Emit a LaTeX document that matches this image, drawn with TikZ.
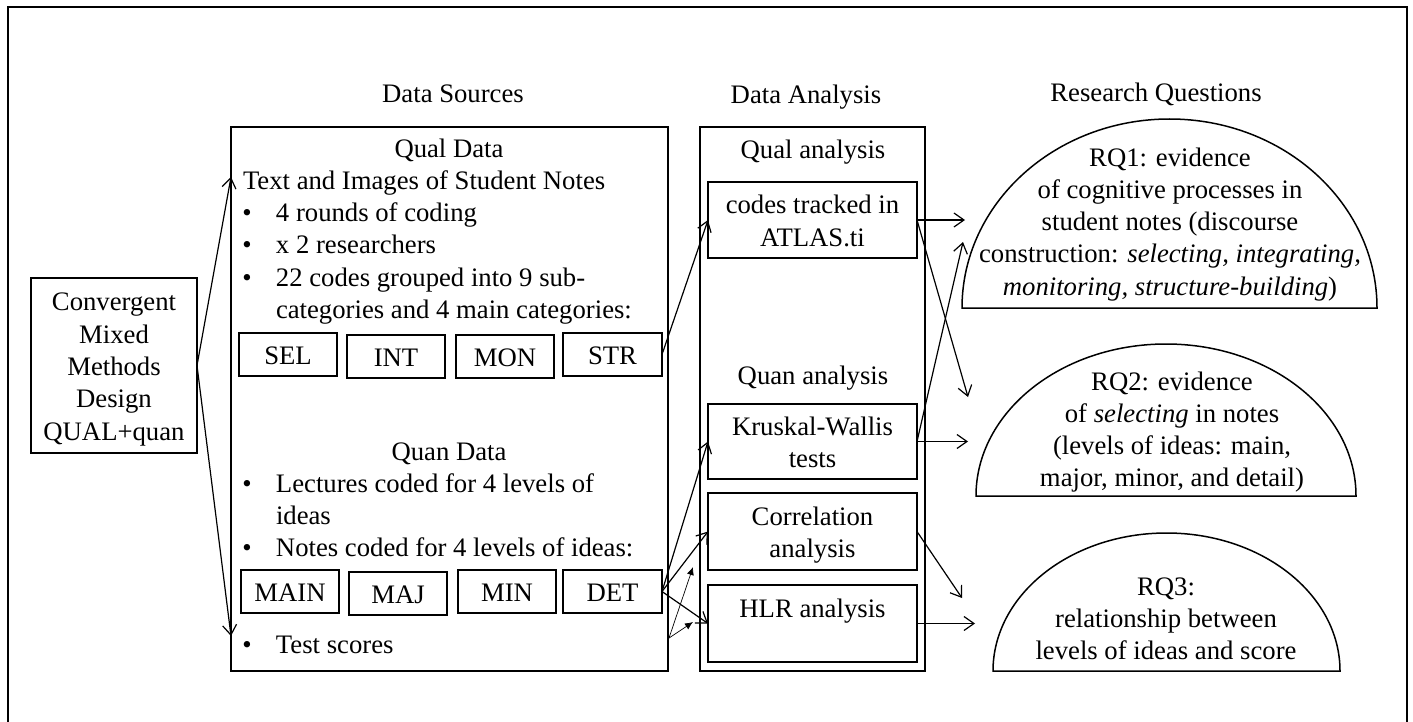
\documentclass[tikz,border=0pt]{standalone}
\usepackage{fontspec}
\setmainfont{Liberation Serif}
\usetikzlibrary{arrows.meta}
\newcommand\ml[1]{\begin{tabular}[t]{@{}c@{}}#1\end{tabular}}
\newcommand\bl[1]{\begin{tabular}[t]{@{}l@{}l@{}}#1\end{tabular}}
\newcommand\bu{\makebox[16.85pt][l]{•}}
\begin{document}
\begin{tikzpicture}[x=0.5pt,y=-0.5pt,
  every node/.style={font=\fontsize{13.35pt}{16.15pt}\selectfont, inner sep=0pt, outer sep=0pt},
  box/.style={draw, line width=0.75pt, inner sep=0pt},
  one/.style={text height=12pt, text depth=2.1pt},
  two/.style={text height=6pt, text depth=12.25pt},
  five/.style={text height=6pt, text depth=60.7pt},
  sbox/.style={box, minimum width=49pt, minimum height=21.5pt, one},
  abox/.style={box, minimum width=104.5pt, minimum height=38pt, two},
  rqshape/.style={draw, line width=0.75pt},
  arr/.style={-{Straight Barb[length=5pt,width=7pt]}, line width=0.6pt},
  tarr/.style={-{Latex[length=4pt,width=3.5pt]}, line width=0.35pt},
  ]
\useasboundingbox (0,0) rectangle (1413,722);
\begin{scope}
  \clip (0,0) rectangle (1413,722);
  \draw[line width=0.6pt] (8,7) rectangle (1407,760);
\end{scope}

% headings
\node[anchor=base] (h1) at (453,103) {Data Sources};
\node[anchor=base] (h2) at (806,104) {Data Analysis};
\node[anchor=base] (h3) at (1156,102) {Research Questions};

% design box
\node[box, minimum width=83pt, minimum height=87.5pt, five] (conv) at (114,365.5)
  {\ml{Convergent\\Mixed\\Methods\\Design\\QUAL+quan}};

% data sources
\node[box, minimum width=218.5pt, minimum height=272pt] (ds) at (449.5,399) {};
\node[anchor=base] (qd) at (449,157) {Qual Data};
\node[anchor=base west] (tin) at (243,189) {Text and Images of Student Notes};
\node[anchor=base west] (qlist) at (242.3,221.6)
  {\bl{\bu&4 rounds of coding\\ \bu&x 2 researchers\\ \bu&22 codes grouped into 9 sub-\\ &categories and 4 main categories:}};
\node[sbox] (sel) at (288,354.5) {SEL};
\node[sbox] (int) at (396,356.5) {INT};
\node[sbox] (mon) at (505,356.5) {MON};
\node[sbox, minimum width=49.5pt] (str) at (612.5,354.5) {STR};

\node[anchor=base] (qnd) at (449,460) {Quan Data};
\node[anchor=base west] (nlist) at (242.3,492)
  {\bl{\bu&Lectures coded for 4 levels of\\ &ideas\\ \bu&Notes coded for 4 levels of ideas:}};
\node[sbox] (main) at (290,591.5) {MAIN};
\node[sbox] (maj) at (398,593.5) {MAJ};
\node[sbox] (min) at (507,591.5) {MIN};
\node[sbox, minimum width=49.5pt] (det) at (612.5,591.5) {DET};
\node[anchor=base west] (tsc) at (242.3,653) {\bl{\bu&Test scores}};

% data analysis
\node[box, minimum width=112.5pt, minimum height=272pt] (da) at (812.5,399) {};
\node[anchor=base] (qla) at (813,158) {Qual analysis};
\node[abox] (codes) at (812.5,220) {\ml{codes tracked in\\ATLAS.ti}};
\node[anchor=base] (qna) at (813,384) {Quan analysis};
\node[abox, minimum height=37.5pt] (kw) at (812.5,441.5) {\ml{Kruskal-Wallis\\tests}};
\node[abox, minimum height=38.5pt] (corr) at (812.5,531.5) {\ml{Correlation\\analysis}};
\node[abox, minimum height=38.5pt] (hlr) at (812.5,623.5) {HLR analysis};

% research questions
\draw[rqshape] (962,308) arc[start angle=180, end angle=0, x radius=103.75pt, y radius=94.5pt] -- cycle;
\draw[rqshape] (976,496) arc[start angle=180, end angle=0, x radius=95pt, y radius=76pt] -- cycle;
\draw[rqshape] (993,671) arc[start angle=180, end angle=0, x radius=86.75pt, y radius=69pt] -- cycle;
\node[anchor=base] (rq1) at (1170,166) {\ml{RQ1: evidence\\of cognitive processes in\\student notes (discourse\\construction: \textit{selecting, integrating,}\\\textit{monitoring, structure-building})}};
\node[anchor=base] (rq2) at (1172,390) {\ml{RQ2: evidence\\of \textit{selecting} in notes\\(levels of ideas: main,\\major, minor, and detail)}};
\node[anchor=base] (rq3) at (1166,595) {\ml{RQ3:\\relationship between\\levels of ideas and score}};

% connectors
\coordinate (dsq) at (231,177);
\coordinate (dst) at (231,636);
\draw[arr] (conv.east) -- (dsq);
\draw[arr] (conv.east) -- (dst);
\draw[arr] (str.east) -- (codes.west);
\draw[arr] (det.east) -- (kw.west);
\draw[arr] (det.east) -- (corr.west);
\draw[arr] (det.east) -- (hlr.west);
\coordinate (ts) at (669,638);
\coordinate (t1) at (693,567);
\coordinate (t2) at (693,622);
\draw[tarr] (ts) -- (t1);
\draw[tarr] (ts) -- (t2);
\coordinate (e1) at (965,220);
\coordinate (e2) at (968,397);
\coordinate (e3) at (963,242);
\coordinate (e4) at (968,441.5);
\coordinate (e5) at (962,598);
\coordinate (e6) at (975,623.5);
\draw[arr] (codes.east) -- (e1);
\draw[arr] (codes.east) -- (e2);
\draw[arr] (kw.east) -- (e3);
\draw[arr] (kw.east) -- (e4);
\draw[arr] (corr.east) -- (e5);
\draw[arr] (hlr.east) -- (e6);
\end{tikzpicture}
\end{document}
